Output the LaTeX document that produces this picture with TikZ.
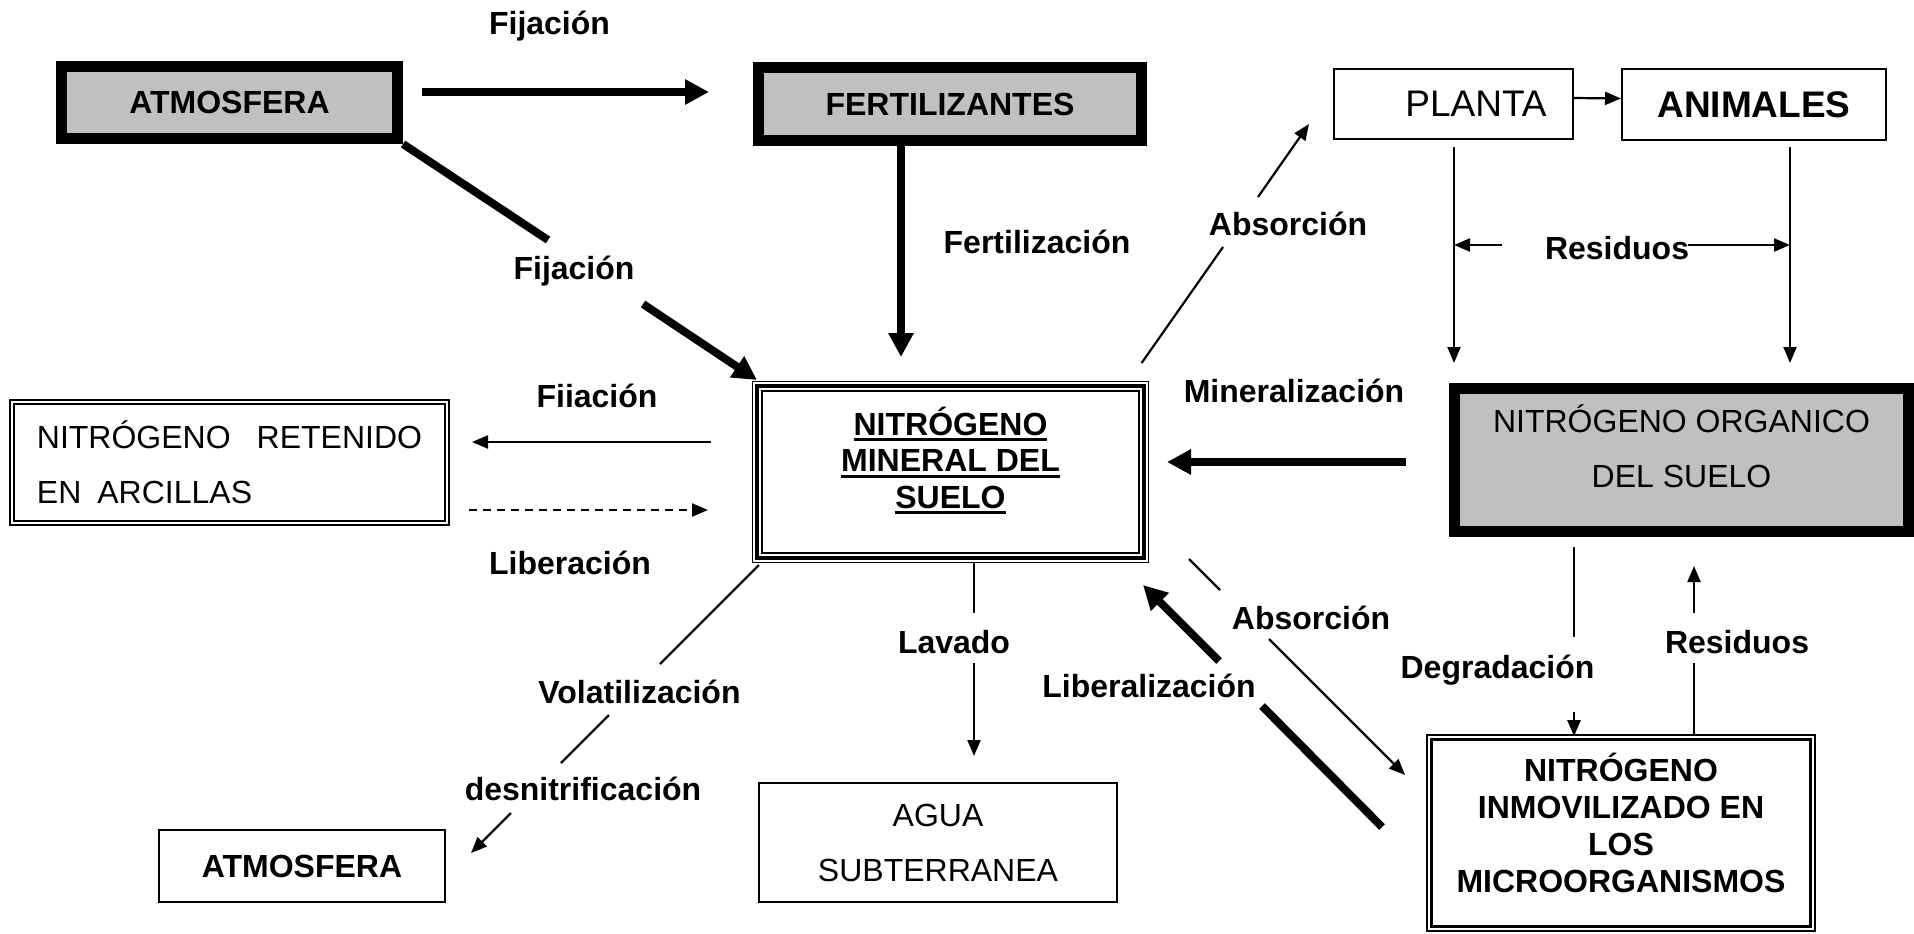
\documentclass[tikz,border=0pt]{standalone}
\usepackage{fontspec}
\setmainfont{Liberation Sans}
\usetikzlibrary{arrows.meta}
\definecolor{BoxGray}{RGB}{192,192,192}
\newsavebox\ulbox
\newcommand{\ulin}[1]{\sbox\ulbox{#1}\rlap{\rule[-2.8pt]{\wd\ulbox}{1.4pt}}\usebox\ulbox}

\begin{document}
\begin{tikzpicture}[x=0.5pt, y=-0.5pt,
    thkbox/.style={rectangle, draw, line width=5.5pt, fill=BoxGray, inner sep=0pt,
                   font=\fontsize{16}{19}\selectfont\bfseries},
    thnbox/.style={rectangle, draw, line width=0.8pt, inner sep=0pt, align=center,
                   font=\fontsize{16}{27.5}\selectfont},
    dblbox/.style={rectangle, draw, double, inner sep=0pt, align=center},
    lbl/.style={anchor=base, inner sep=0pt, font=\fontsize{16}{19}\selectfont\bfseries},
    thk/.style={line width=4pt},
    thn/.style={line width=1.1pt},
    arrB/.style={thk, -{Triangle[length=12pt, width=12pt]}},
    arrS/.style={thn, -{Triangle[length=8pt, width=6.5pt]}}
  ]
  \useasboundingbox (0,0) rectangle (1914,933);

  % boxes
  \node[thkbox, minimum width=168pt, minimum height=36pt] (atm) at (229.5,102.5) {ATMOSFERA};
  \node[thkbox, minimum width=191.5pt, minimum height=36.5pt] (fert) at (950,104) {FERTILIZANTES};
  \node[thnbox, font=\fontsize{18.5}{22}\selectfont, minimum width=119.7pt,
        minimum height=35.2pt] (plant) at (1453.5,104) {\hspace*{22.5pt}PLANTA};
  \node[thnbox, font=\fontsize{18.5}{22}\selectfont\bfseries, minimum width=132.2pt,
        minimum height=35.7pt] (anim) at (1754,104.5) {ANIMALES};
  \node[dblbox, line width=1pt, double distance=1.2pt, align=left,
        font=\fontsize{16}{27.5}\selectfont, minimum width=217.3pt,
        minimum height=60.3pt] (ret) at (229.5,462.5)
        {NITRÓGENO\hspace{13pt}RETENIDO\\EN\hspace{8pt}ARCILLAS};
  \node[draw, line width=0.7pt, inner sep=0pt, align=center,
        font=\fontsize{16}{18.25}\selectfont\bfseries, minimum width=197.8pt,
        minimum height=90.3pt] (nmin) at (950.5,472)
        {\ulin{NITRÓGENO}\\\ulin{MINERAL DEL}\\\ulin{SUELO}\\[-4pt]\mbox{}};
  \draw[line width=2pt] ([shift={(2.3pt,-2.3pt)}]nmin.north west)
        rectangle ([shift={(-2.3pt,2.3pt)}]nmin.south east);
  \draw[line width=1pt] ([shift={(5.2pt,-5.2pt)}]nmin.north west)
        rectangle ([shift={(-5.2pt,5.2pt)}]nmin.south east);
  \node[thkbox, font=\fontsize{16}{27.5}\selectfont, align=center, minimum width=227pt,
        minimum height=71.5pt] (org) at (1681.5,460)
        {NITRÓGENO ORGANICO\\DEL SUELO\\[-13.3pt]\mbox{}};
  \node[thnbox, font=\fontsize{16}{19}\selectfont\bfseries, minimum width=143.2pt,
        minimum height=36.2pt] (atm2) at (302,866) {ATMOSFERA};
  \node[thnbox, minimum width=179.2pt, minimum height=59.7pt] (agua) at (938,842.5)
        {AGUA\\SUBTERRANEA};
  \node[dblbox, line width=1.2pt, double distance=1pt,
        font=\fontsize{16}{18.5}\selectfont\bfseries, minimum width=191.6pt,
        minimum height=95.6pt] (inmov) at (1621,833)
        {NITRÓGENO\\INMOVILIZADO EN\\LOS\\MICROORGANISMOS\\[-8.3pt]\mbox{}};

  % labels
  \node[lbl] (lFij1) at (549.5,34)  {Fijación};
  \node[lbl] (lFij2) at (574,279)   {Fijación};
  \node[lbl] (lFert) at (1037,253)  {Fertilización};
  \node[lbl] (lAbs1) at (1288,235)  {Absorción};
  \node[lbl] (lRes1) at (1617,259)  {Residuos};
  \node[lbl] (lMin)  at (1294,402)  {Mineralización};
  \node[lbl] (lFii)  at (597,407)   {Fiiación};
  \node[lbl] (lLib)  at (570,574)   {Liberación};
  \node[lbl] (lLav)  at (954,653)   {Lavado};
  \node[lbl] (lVol)  at (639.5,703) {Volatilización};
  \node[lbl] (lDes)  at (583,800)   {desnitrificación};
  \node[lbl] (lAbs2) at (1311,629)  {Absorción};
  \node[lbl] (lLbz)  at (1149,697)  {Liberalización};
  \node[lbl] (lDeg)  at (1497.5,678) {Degradación};
  \node[lbl] (lRes2) at (1737,653)  {Residuos};

  % free ends of the connectors
  \foreach \n/\x/\y in {pA1/422/92, pA2/709/92, pB1/548/240, pB2/643/304, pB3/757/380,
      pC/901/357, pD1/1141.6/363, pD2/1223/247, pD3/1258/197, pD4/1309/124,
      pF1/1454/147, pF2/1454/363, pG1/1790/147, pG2/1790/363, pH1/1502/245, pH2/1688/245,
      pI1/1406/462, pI2/1167/462, pJ1/711/442, pJ2/472/442, pK1/469/510, pK2/708/510,
      pL0/759/565, pL1/660/664, pL2/609/715, pL3/561/763, pL4/511/813, pL5/471/853,
      pM1/974/613, pM2/974/663, pM3/974/756,
      pN1/1189/559, pN2/1220/590, pN3/1269/639, pN4/1405/775,
      pO1/1382/827, pO2/1262/706, pO3/1219/661, pO4/1143/585,
      pP1/1574/547, pP2/1574/637, pP3/1574/712,
      pQ1/1694/663, pQ2/1694/613, pQ3/1694/566}
    \coordinate (\n) at (\x,\y);

  % connectors
  \draw[arrB] (pA1) -- (pA2);
  \draw[thk]  (atm.south east) -- (pB1);
  \draw[arrB] (pB2) -- (pB3);
  \draw[arrB] (pC |- fert.south) -- (pC);
  \draw[thn]  (pD1) -- (pD2);
  \draw[arrS] (pD3) -- (pD4);
  \draw[arrS] ([yshift=3pt]plant.east) -- ([yshift=3pt]anim.west);
  \draw[arrS] (pF1) -- (pF2);
  \draw[arrS] (pG1) -- (pG2);
  \draw[arrS] (pH1) -- (pH1 -| pF1);
  \draw[arrS] (pH2) -- (pH2 -| pG1);
  \draw[arrB] (pI1) -- (pI2);
  \draw[arrS] (pJ1) -- (pJ2);
  \draw[arrS, dash pattern=on 4pt off 3pt] (pK1) -- (pK2);
  \draw[thn]  (pL0) -- (pL1);
  \draw[thn]  (pL2) -- (pL3);
  \draw[arrS] (pL4) -- (pL5);
  \draw[thn]  (pM1 |- nmin.south) -- (pM1);
  \draw[arrS] (pM2) -- (pM3);
  \draw[thn]  (pN1) -- (pN2);
  \draw[arrS] (pN3) -- (pN4);
  \draw[thk]  (pO1) -- (pO2);
  \draw[arrB] (pO3) -- (pO4);
  \draw[thn]  (pP1) -- (pP2);
  \draw[arrS] (pP3) -- (pP3 |- inmov.north);
  \draw[thn]  (pQ1 |- inmov.north) -- (pQ1);
  \draw[arrS] (pQ2) -- (pQ3);
\end{tikzpicture}
\end{document}
